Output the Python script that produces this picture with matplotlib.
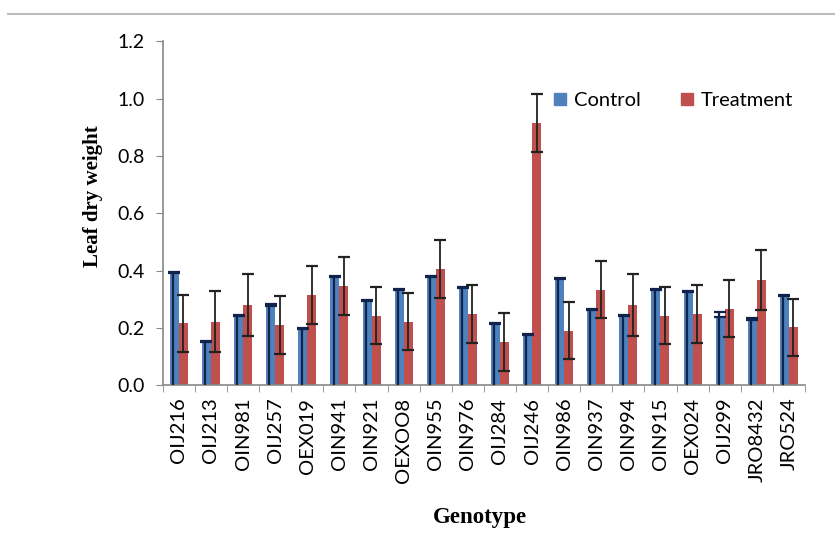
import numpy as np
import matplotlib.pyplot as plt
from matplotlib.lines import Line2D

# data
genotypes = ['OIJ216', 'OIJ213', 'OIN981', 'OIJ257', 'OEX019', 'OIN941', 'OIN921',
             'OEXOO8', 'OIN955', 'OIN976', 'OIJ284', 'OIJ246', 'OIN986', 'OIN937',
             'OIN994', 'OIN915', 'OEX024', 'OIJ299', 'JRO8432', 'JRO524']
control = [0.39, 0.15, 0.24, 0.278, 0.195, 0.376, 0.292, 0.331, 0.376, 0.338,
           0.214, 0.174, 0.371, 0.261, 0.241, 0.331, 0.325, 0.237, 0.228, 0.312]
control_err = [0.005, 0.004, 0.004, 0.005, 0.004, 0.005, 0.005, 0.005, 0.005, 0.004,
               0.004, 0.004, 0.004, 0.004, 0.004, 0.004, 0.004, 0.018, 0.005, 0.004]
treatment = [0.216, 0.222, 0.281, 0.21, 0.315, 0.346, 0.242, 0.222, 0.405, 0.248,
             0.151, 0.915, 0.19, 0.333, 0.281, 0.242, 0.248, 0.267, 0.366, 0.202]
treatment_err = [0.10, 0.107, 0.108, 0.10, 0.10, 0.10, 0.10, 0.10, 0.10, 0.10,
                 0.10, 0.10, 0.10, 0.10, 0.108, 0.10, 0.10, 0.10, 0.105, 0.10]

blue = '#4F81BD'
red = '#C0504D'

fig = plt.figure(figsize=(8.35, 5.35), dpi=100)
ax = fig.add_axes([0.195, 0.280, 0.769, 0.643])

x = np.arange(len(genotypes))
w = 0.28
ax.bar(x - w / 2, control, w, color=blue, zorder=2)
ax.bar(x + w / 2, treatment, w, color=red, zorder=2)

# control bars: dark line down the bar and small cap on top
ax.errorbar(x - w / 2 - 0.04, control, yerr=[control, control_err], fmt='none',
            ecolor='#10234a', elinewidth=1.6, capsize=0, zorder=3)
ax.errorbar(x - w / 2, control, yerr=[np.zeros(len(control)), control_err], fmt='none',
            ecolor='#10234a', elinewidth=0, capsize=4, capthick=1.6, zorder=3)
ax.errorbar(x + w / 2, treatment, yerr=treatment_err, fmt='none',
            ecolor='#222222', elinewidth=1.3, capsize=4, capthick=1.6, zorder=3)

ax.set_xlim(-0.5, len(genotypes) - 0.5)
ax.set_ylim(0, 1.2)
ax.set_yticks(np.arange(0, 1.21, 0.2))
ax.set_yticklabels([f'{v:.1f}' for v in np.arange(0, 1.21, 0.2)],
                   fontsize=14, family='Lato')
ax.set_xticks(x)
ax.set_xticklabels(genotypes, rotation=90, fontsize=14.5, family='Lato')
ax.set_xticks(np.arange(-0.5, len(genotypes), 1), minor=True)
ax.tick_params(axis='x', which='major', length=0, pad=9)
ax.tick_params(axis='x', which='minor', length=5, color='#888888', direction='out')
ax.tick_params(axis='y', length=5, color='#888888', direction='out', pad=8)

for s in ['top', 'right']:
    ax.spines[s].set_visible(False)
for s in ['left', 'bottom']:
    ax.spines[s].set_color('#888888')
    ax.spines[s].set_linewidth(1.2)

ax.set_ylabel('Leaf dry weight', fontsize=15, fontweight='bold', family='Liberation Serif')
ax.yaxis.set_label_coords(-0.093, 0.55)
fig.text(0.575, 0.022, 'Genotype', fontsize=16.5, fontweight='bold',
         family='Liberation Serif', ha='center')

handles = [plt.Rectangle((0, 0), 1, 1, color=blue), plt.Rectangle((0, 0), 1, 1, color=red)]
ax.legend(handles, ['Control', 'Treatment'], loc='upper right', ncol=2, frameon=False,
          prop={'family': 'Lato', 'size': 14.5}, handlelength=0.6, handleheight=0.6,
          handletextpad=0.4, columnspacing=2.0, bbox_to_anchor=(1.01, 0.905))

# grey rule at the top of the page
fig.add_artist(Line2D([0.01, 1.0], [0.974, 0.974], color='#bbbbbb', lw=1.5))

fig.savefig('out.png', dpi=100)
